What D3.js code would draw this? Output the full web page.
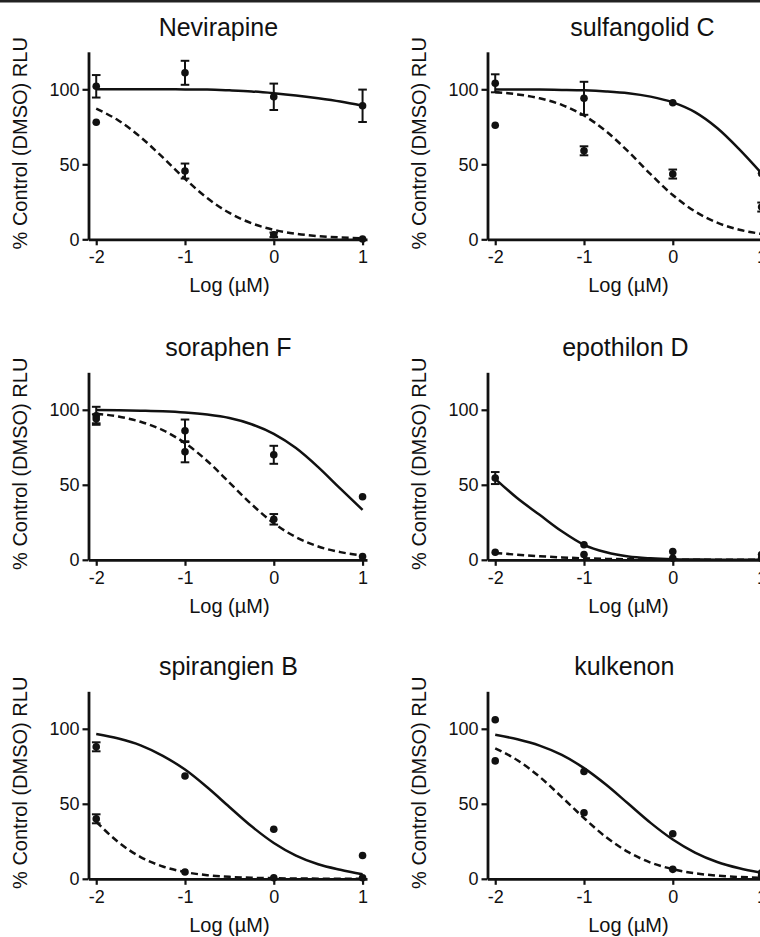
<!DOCTYPE html>
<html>
<head>
<meta charset="utf-8">
<script src="https://cdn.jsdelivr.net/npm/d3@7"></script>
<style>
  html, body { margin: 0; padding: 0; background: #fff; }
  svg { display: block; font-family: "Liberation Sans", Arial, Helvetica, sans-serif; }
</style>
</head>
<body>
<div id="chart"></div>
<script>
// panel titles, row by row
const titles = ['Nevirapine', 'sulfangolid C', 'soraphen F', 'epothilon D', 'spirangien B', 'kulkenon'];

// log(uM) doses of the measured points and of the drawn fit curves
const doses = [-2, -1, 0, 1];
const curveDoses = [-2, -1.75, -1.5, -1.25, -1, -0.75, -0.5, -0.25, 0, 0.25, 0.5, 0.75, 1];

const yTicks = [0, 50, 100];

// solid series (one row per panel)
const solidMeans = [
  [102, 111, 95, 89],
  [104, 94, 91, 44],
  [96, 86, 70, 42],
  [54.5, 10, 5.5, 3.5],
  [88, 68.5, 33, 15.5],
  [106, 71.5, 30, 4]
];
const solidErrors = [
  [7.5, 8, 8.8, 10.8],
  [6, 11, 0, 0],
  [6, 7.5, 6, 0],
  [4, 0, 0, 0],
  [3, 0, 0, 0],
  [0, 0, 0, 0]
];
const solidCurves = [
  [100, 100, 100, 100, 99.9, 99.8, 99.3, 98.6, 97.4, 95.9, 94, 91.8, 89],
  [99.9, 99.9, 99.8, 99.6, 99.3, 98.6, 97.4, 95.1, 91.3, 84.8, 74.2, 60, 44],
  [99.8, 99.7, 99.4, 99, 98.2, 96.8, 94.5, 90.4, 84, 74.5, 61.8, 47.4, 33.3],
  [54, 41, 30, 19, 10, 5, 2.2, 1, 0.4, 0.2, 0.1, 0, 0],
  [96.5, 93.5, 89, 82, 72.8, 61, 47.9, 35, 23.9, 15.5, 9.7, 6, 3],
  [96, 93, 88.8, 82.6, 73.8, 62.7, 50, 37.3, 26.2, 17.5, 11.2, 7, 4]
];

// dashed series
const dashedMeans = [
  [78, 45.5, 3, 0.2],
  [76, 59, 43.5, 21.5],
  [94, 72, 27, 2.2],
  [5, 3.5, 1, 1],
  [40, 4.5, 0.7, 0.7],
  [78.6, 44, 6.3, 2]
];
const dashedErrors = [
  [0, 5, 1.5, 0],
  [0, 3, 3, 3],
  [3, 7, 3.5, 0],
  [0, 0, 0, 0],
  [3, 0, 0, 0],
  [0, 0, 0, 0]
];
const dashedCurves = [
  [87.1, 79.2, 68.1, 54.6, 40.3, 27.5, 17.6, 10.7, 6.3, 3.7, 2.1, 1.2, 0.7],
  [98.1, 96.6, 94, 89.6, 82.5, 72, 58.4, 43.4, 29.5, 18.6, 11.1, 6.4, 3.6],
  [97.4, 95.5, 92, 86.4, 77.8, 65.9, 51.5, 37, 24.4, 15.1, 8.9, 5.1, 2.9],
  [4.6, 3.4, 2.4, 1.6, 1, 0.6, 0.35, 0.2, 0.1, 0.05, 0, 0, 0],
  [38, 24.4, 14.5, 8.2, 4.5, 2.4, 1.3, 0.7, 0.4, 0.2, 0.1, 0.05, 0.03],
  [87, 79, 68, 54.5, 40.5, 27.7, 17.8, 10.8, 6.4, 3.7, 2.1, 1.2, 0.7]
];

// layout
const W = 760, H = 937;
const colX = [0, 399];
const rowY = [0, 320.5, 639.5];
const titleShift = [-11, 14, -1, -3, -1, -4];
const ink = '#111';

const svg = d3.select('#chart').append('svg')
  .attr('width', W)
  .attr('height', H);

svg.append('rect').attr('width', W).attr('height', H).attr('fill', '#fff');
// thin frame line along the top edge
svg.append('rect').attr('x', 0).attr('y', 0).attr('width', W).attr('height', 2.5).attr('fill', '#222');

// scales shared by every panel (panels are translated)
const x = d3.scaleLinear().domain([-2.087, 1.05]).range([88.5, 367]);
const y = d3.scaleLinear().domain([0, 125]).range([239.3, 51.8]);

const line = d3.line()
  .x((d, i) => x(curveDoses[i]))
  .y(d => y(d))
  .curve(d3.curveMonotoneX);

titles.forEach((title, p) => {
  const col = p % 2, row = Math.floor(p / 2);
  const g = svg.append('g').attr('transform', `translate(${colX[col]},${rowY[row]})`);

  // fitted curves
  g.append('path')
    .attr('d', line(solidCurves[p]))
    .attr('fill', 'none')
    .attr('stroke', ink)
    .attr('stroke-width', 2.5);

  g.append('path')
    .attr('d', line(dashedCurves[p]))
    .attr('fill', 'none')
    .attr('stroke', ink)
    .attr('stroke-width', 2.5)
    .attr('stroke-dasharray', '7,4');

  // axes
  const yAxis = g.append('g')
    .attr('transform', `translate(${x.range()[0]},0)`)
    .call(d3.axisLeft(y).tickValues(yTicks).tickSize(6).tickSizeOuter(0).tickPadding(3));

  const xAxis = g.append('g')
    .attr('transform', `translate(0,${y(0)})`)
    .call(d3.axisBottom(x).tickValues(doses).tickSize(6).tickSizeOuter(0).tickPadding(5).tickFormat(d3.format('d')));

  [yAxis, xAxis].forEach(a => {
    a.select('.domain').attr('stroke', ink).attr('stroke-width', 2.8);
    a.selectAll('.tick line').attr('stroke', ink).attr('stroke-width', 2.2);
    a.selectAll('.tick text')
      .attr('fill', ink)
      .style('font-size', '18px')
      .style('font-family', '"Liberation Sans", Arial, sans-serif');
  });
  xAxis.selectAll('.tick text').text(d => d < 0 ? '-' + Math.abs(d) : d);

  // error bars + points
  const series = [
    { means: solidMeans[p], errs: solidErrors[p] },
    { means: dashedMeans[p], errs: dashedErrors[p] }
  ];
  series.forEach(s => {
    const pts = doses.map((d, i) => ({ d, m: s.means[i], e: s.errs[i] }));
    const bars = pts.filter(q => q.e > 0);

    g.selectAll(null).data(bars).enter().append('line')
      .attr('x1', q => x(q.d)).attr('x2', q => x(q.d))
      .attr('y1', q => y(q.m - q.e)).attr('y2', q => y(q.m + q.e))
      .attr('stroke', ink).attr('stroke-width', 2);

    [-1, 1].forEach(sign => {
      g.selectAll(null).data(bars).enter().append('line')
        .attr('x1', q => x(q.d) - 4.3).attr('x2', q => x(q.d) + 4.3)
        .attr('y1', q => y(q.m + sign * q.e)).attr('y2', q => y(q.m + sign * q.e))
        .attr('stroke', ink).attr('stroke-width', 2);
    });

    g.selectAll(null).data(pts).enter().append('circle')
      .attr('cx', q => x(q.d))
      .attr('cy', q => y(q.m))
      .attr('r', 3.8)
      .attr('fill', ink);
  });

  // title
  const midX = (x(-2) + x(1)) / 2;
  g.append('text')
    .attr('x', midX + titleShift[p])
    .attr('y', y(0) - 203.5)
    .attr('text-anchor', 'middle')
    .attr('fill', ink)
    .style('font-size', '25px')
    .text(title);

  // x axis label
  g.append('text')
    .attr('x', midX)
    .attr('y', y(0) + 53)
    .attr('text-anchor', 'middle')
    .attr('fill', ink)
    .style('font-size', '20px')
    .text('Log (µM)');

  // y axis label
  g.append('text')
    .attr('transform', `translate(${x.range()[0] - 62},${y(0) - 96}) rotate(-90)`)
    .attr('text-anchor', 'middle')
    .attr('fill', ink)
    .style('font-size', '20px')
    .text('% Control (DMSO) RLU');
});
</script>
</body>
</html>
